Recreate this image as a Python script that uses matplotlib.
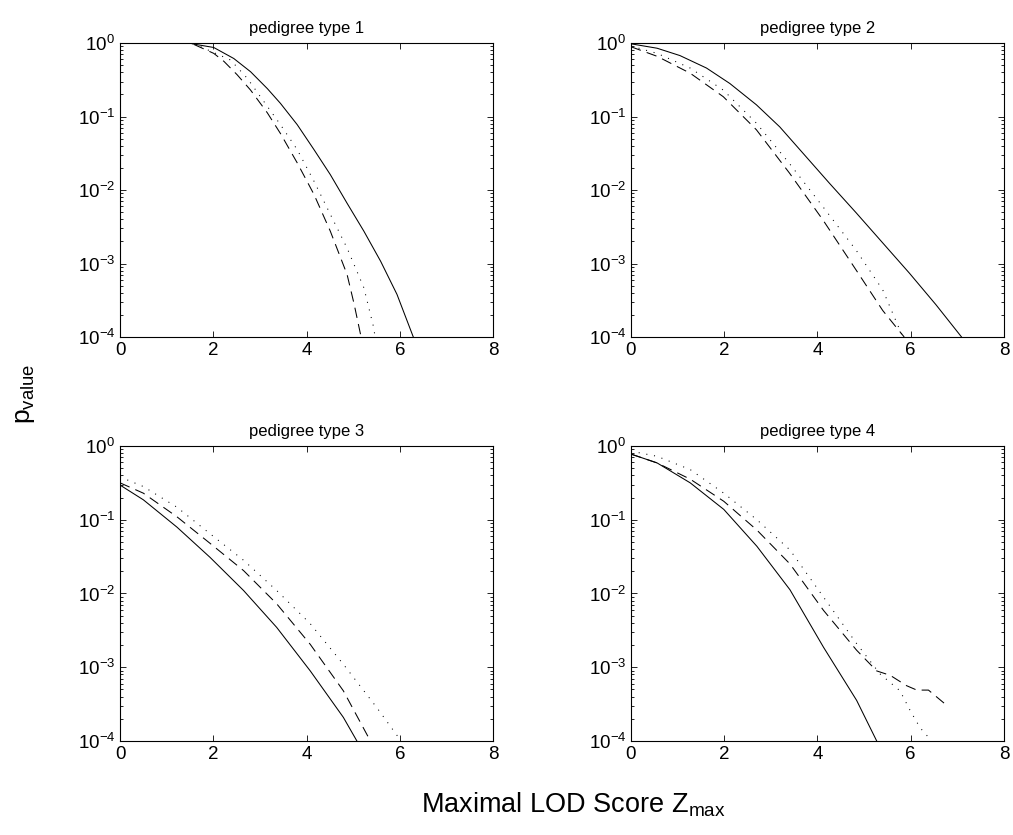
import numpy as np
import matplotlib
matplotlib.use("Agg")
from matplotlib import pyplot as plt
from matplotlib.ticker import LogLocator, NullFormatter

plt.rcParams['font.family'] = ['Liberation Sans', 'DejaVu Sans']
plt.rcParams['mathtext.fontset'] = 'custom'
plt.rcParams['mathtext.rm'] = 'Liberation Sans'
plt.rcParams['mathtext.it'] = 'Liberation Sans'
plt.rcParams['mathtext.default'] = 'regular'

titles = ['pedigree type 1', 'pedigree type 2', 'pedigree type 3', 'pedigree type 4']

# each curve: LOD score z and log10(p-value)
# pedigree type 1
p1_solid_z = [1.55, 2.01, 2.44, 2.8, 3.16, 3.44, 3.8, 4.16, 4.51, 4.87, 5.23, 5.59, 5.94, 6.29]
p1_solid_lp = [-0.01, -0.06, -0.21, -0.39, -0.62, -0.82, -1.11, -1.45, -1.79, -2.18, -2.56, -2.97, -3.42, -4.0]
p1_dash_z = [1.59, 2.01, 2.23, 2.51, 2.8, 3.16, 3.44, 3.8, 4.16, 4.51, 4.87, 5.02, 5.17]
p1_dash_lp = [-0.02, -0.14, -0.25, -0.43, -0.64, -0.95, -1.23, -1.63, -2.06, -2.56, -3.15, -3.55, -4.0]
p1_dot_z = [1.73, 2.37, 2.73, 3.09, 3.44, 3.8, 4.16, 4.51, 4.87, 5.23, 5.44, 5.47]
p1_dot_lp = [-0.05, -0.23, -0.48, -0.8, -1.11, -1.45, -1.88, -2.33, -2.79, -3.33, -3.87, -4.0]

# pedigree type 2
p2_solid_z = [0, 0.56, 1.05, 1.62, 2.12, 2.69, 3.19, 3.76, 4.26, 4.83, 5.4, 5.97, 6.54, 7.09]
p2_solid_lp = [-0.01, -0.07, -0.17, -0.34, -0.55, -0.84, -1.14, -1.55, -1.91, -2.31, -2.72, -3.13, -3.56, -4.0]
p2_dash_z = [0, 0.56, 1.27, 1.98, 2.69, 3.4, 4.12, 4.83, 5.4, 5.68, 5.86]
p2_dash_lp = [-0.05, -0.18, -0.41, -0.73, -1.18, -1.77, -2.41, -3.09, -3.64, -3.86, -4.0]
p2_dot_z = [0, 0.56, 1.27, 1.98, 2.69, 3.4, 4.12, 4.83, 5.4, 5.83]
p2_dot_lp = [-0.04, -0.14, -0.34, -0.64, -1.09, -1.64, -2.23, -2.82, -3.36, -4.0]

# pedigree type 3
p3_solid_z = [0, 0.5, 1.22, 1.93, 2.65, 3.36, 4.08, 4.79, 5.08]
p3_solid_lp = [-0.53, -0.73, -1.1, -1.51, -1.96, -2.46, -3.05, -3.68, -4.0]
p3_dash_z = [0, 0.5, 1.22, 1.93, 2.65, 3.36, 4.08, 4.79, 5.37]
p3_dash_lp = [-0.5, -0.64, -0.96, -1.32, -1.69, -2.14, -2.69, -3.32, -4.0]
p3_dot_z = [0, 0.5, 1.22, 1.93, 2.65, 3.36, 4.08, 4.79, 5.51, 5.97, 6.01]
p3_dot_lp = [-0.42, -0.55, -0.83, -1.19, -1.55, -1.96, -2.41, -2.96, -3.55, -3.95, -4.0]

# pedigree type 4
p4_solid_z = [0, 0.56, 1.27, 1.99, 2.7, 3.41, 4.13, 4.84, 5.27]
p4_solid_lp = [-0.11, -0.23, -0.5, -0.86, -1.36, -1.95, -2.73, -3.45, -4.0]
p4_dash_z = [0, 0.56, 1.27, 1.99, 2.7, 3.41, 4.13, 4.84, 5.27, 5.56, 5.91, 6.13, 6.38, 6.74]
p4_dash_lp = [-0.11, -0.23, -0.45, -0.75, -1.14, -1.6, -2.23, -2.77, -3.05, -3.11, -3.25, -3.31, -3.31, -3.5]
p4_dot_z = [0, 0.56, 1.27, 1.99, 2.7, 3.41, 4.13, 4.84, 5.34, 5.77, 5.99, 6.2, 6.38]
p4_dot_lp = [-0.07, -0.14, -0.32, -0.64, -1.0, -1.41, -2.05, -2.68, -3.09, -3.32, -3.59, -3.82, -3.95]

panels = [
    (p1_solid_z, p1_solid_lp, p1_dash_z, p1_dash_lp, p1_dot_z, p1_dot_lp),
    (p2_solid_z, p2_solid_lp, p2_dash_z, p2_dash_lp, p2_dot_z, p2_dot_lp),
    (p3_solid_z, p3_solid_lp, p3_dash_z, p3_dash_lp, p3_dot_z, p3_dot_lp),
    (p4_solid_z, p4_solid_lp, p4_dash_z, p4_dash_lp, p4_dot_z, p4_dot_lp),
]

fig = plt.figure(figsize=(10.13, 8.35), dpi=100)
positions = [
    [0.1185, 0.5964, 0.3682, 0.352],
    [0.6229, 0.5964, 0.3682, 0.352],
    [0.1185, 0.1126, 0.3682, 0.3533],
    [0.6229, 0.1126, 0.3682, 0.3533],
]

for pos, title, data in zip(positions, titles, panels):
    ax = fig.add_axes(pos)
    sz, slp, dz, dlp, oz, olp = data
    ax.semilogy(sz, 10 ** np.array(slp), color='k', lw=0.75, linestyle='-')
    ax.semilogy(dz, 10 ** np.array(dlp), color='k', lw=0.75, linestyle=(0, (10, 6)))
    ax.semilogy(oz, 10 ** np.array(olp), color='k', lw=0.75, linestyle=(0, (1, 6.5)))
    ax.set_xlim(0, 8)
    ax.set_ylim(1e-4, 1)
    ax.set_xticks([0, 2, 4, 6, 8])
    ax.yaxis.set_major_locator(LogLocator(base=10, numticks=10))
    ax.yaxis.set_minor_locator(LogLocator(base=10, subs=np.arange(2, 10), numticks=20))
    ax.yaxis.set_minor_formatter(NullFormatter())
    ax.tick_params(which='both', direction='in', top=True, right=True, labelsize=13.5, width=0.6)
    ax.tick_params(which='major', length=4)
    ax.tick_params(which='minor', length=2.5)
    for s in ax.spines.values():
        s.set_linewidth(0.8)
    ax.set_title(title, fontsize=12, pad=7)

fig.text(0.025, 0.528, '$p_{value}$', rotation=90, fontsize=19, ha='center', va='center')
fig.text(0.566, 0.036, 'Maximal LOD Score $Z_{max}$', fontsize=19.5, ha='center', va='center')

plt.savefig('out.png', dpi=100)
